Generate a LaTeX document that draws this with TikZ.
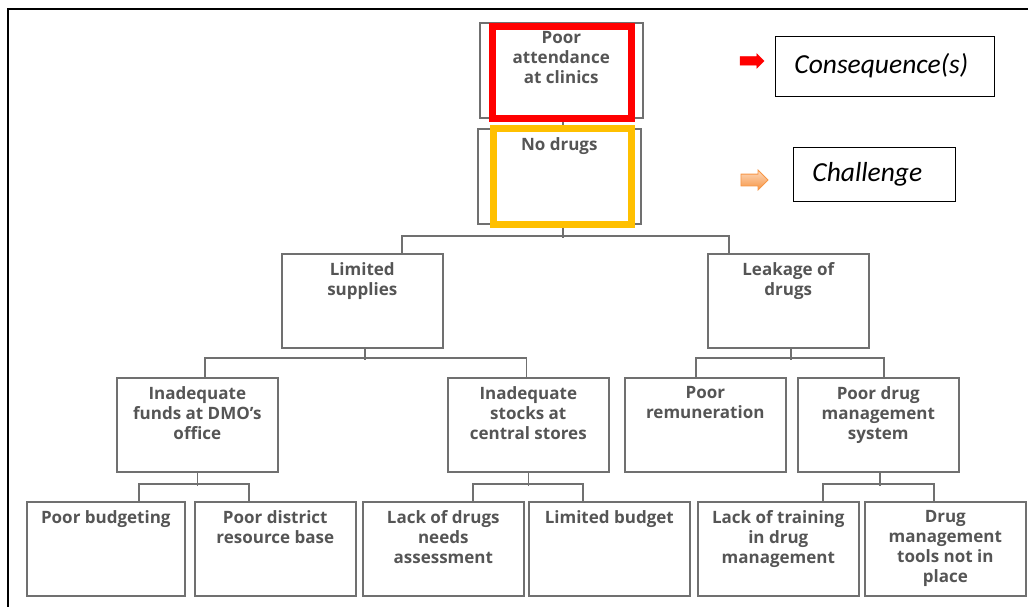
\documentclass[tikz,border=0pt]{standalone}
\usepackage{fontspec}
\setmainfont{Open Sans}
\newfontfamily\legendfont{Carlito}
\usetikzlibrary{positioning,shapes.arrows}

\definecolor{boxgray}{HTML}{707070}
\definecolor{textgray}{HTML}{555555}
\definecolor{hlred}{HTML}{FF0000}
\definecolor{hlyellow}{HTML}{FFC000}
\definecolor{peach}{HTML}{FCD9BC}
\definecolor{peachdark}{HTML}{F79646}

\begin{document}
\begin{tikzpicture}[x=1pt, y=-1pt,
		causebox/.style={draw=boxgray, line width=1.6pt, minimum width=161pt, minimum height=94pt, inner sep=0pt, anchor=north west},
		boxtext/.style={anchor=north, yshift=-9.5pt, align=center, text=textgray, inner sep=0pt, font=\bfseries\fontsize{17}{20}\selectfont},
		link/.style={draw=boxgray, line width=1.6pt},
		legendbox/.style={draw=black, line width=0.8pt, align=left, inner xsep=19pt, inner ysep=0pt, anchor=west, font=\legendfont\itshape\fontsize{27.5}{30}\selectfont},
		keyarrow/.style={single arrow, inner xsep=0pt},
	]
	\useasboundingbox (0,0) rectangle (1028,607);
	%Frame
	\draw[black, line width=1.5pt] (8,607) -- (8,9) -- (1028,9);
	
	%Nodes
	\node[causebox, minimum width=163pt, minimum height=95pt] (pac) at (479,22) [label={[boxtext]north:Poor\\attendance\\at clinics}] {};
	\node[causebox, minimum width=163pt, minimum height=95pt] (nod) at (477,128) [label={[boxtext]north:No drugs}] {};
	\node[causebox] (ls)  at (281,253) [label={[boxtext]north:Limited\\supplies}] {};
	\node[causebox] (lk)  at (707,253) [label={[boxtext]north:Leakage of\\drugs}] {};
	\node[causebox] (iaf) at (116,377) [label={[boxtext]north:Inadequate\\funds at DMO’s\\office}] {};
	\node[causebox] (ias) at (447,377) [label={[boxtext]north:Inadequate\\stocks at\\central stores}] {};
	\node[causebox] (prm) at (624,377) [label={[boxtext]north:Poor\\remuneration}] {};
	\node[causebox] (pdm) at (797,377) [label={[boxtext]north:Poor drug\\management\\system}] {};
	\node[causebox, minimum width=158pt] (pbg) at (26,501) [label={[boxtext]north:Poor budgeting}] {};
	\node[causebox] (pdr) at (194,501) [label={[boxtext]north:Poor district\\resource base}] {};
	\node[causebox] (lda) at (362,501) [label={[boxtext]north:Lack of drugs\\needs\\assessment}] {};
	\node[causebox] (lbd) at (528,501) [label={[boxtext]north:Limited budget}] {};
	\node[causebox] (ltr) at (697,501) [label={[boxtext]north:Lack of training\\in drug\\management}] {};
	\node[causebox] (dmt) at (864,501) [label={[boxtext]north:Drug\\management\\tools not in\\place}] {};
	
	%Lines
	\draw[link] ([xshift=1.5pt]pac.south) -- ([xshift=3.5pt]nod.north);
	\draw[link] ([xshift=3.5pt]nod.south) -- ++(0,13);
	\draw[link] ([xshift=39.5pt]ls.north) -- ++(0,-17) -| ([xshift=-59.5pt]lk.north);
	\draw[link] ([xshift=2.5pt]ls.south) -- ++(0,11);
	\draw[link] ([xshift=7.5pt]iaf.north) -- ++(0,-19) -| ([xshift=-2pt]ias.north);
	\draw[link] ([xshift=2.5pt]lk.south) -- ++(0,11);
	\draw[link] ([xshift=-9.5pt]prm.north) -- ++(0,-19) -| ([xshift=5.5pt]pdm.north);
	\draw[link] (iaf.south) -- ++(0,13);
	\draw[link] ([xshift=33pt]pbg.north) -- ++(0,-17) -| ([xshift=-26.5pt]pdr.north);
	\draw[link] (ias.south) -- ++(0,13);
	\draw[link] ([xshift=29.5pt]lda.north) -- ++(0,-17) -| ([xshift=-26.5pt]lbd.north);
	\draw[link] ([xshift=1.5pt]pdm.south) -- ++(0,13);
	\draw[link] ([xshift=44.5pt]ltr.north) -- ++(0,-17) -| ([xshift=-11.5pt]dmt.north);
	
	%Highlights
	\draw[hlred, line width=7pt] (492.5,26.5) rectangle (631.5,118.5);
	\draw[hlyellow, line width=7pt] (493.5,128.5) rectangle (631.5,224.5);
	
	%Legend
	\node[keyarrow, fill=hlred, draw=hlred, line width=0.5pt, inner ysep=4pt, single arrow head extend=3pt, minimum height=24pt] (rkey) at (750,61) {};
	\node[legendbox, text width=181pt, minimum height=60pt] (cons) at (775,66) {Consequence(s)};
	\node[keyarrow, top color=peach, bottom color=peachdark, draw=peachdark, line width=0.8pt, inner ysep=5.5pt, single arrow head extend=4pt, minimum height=27pt] (okey) at (751.5,180) {};
	\node[legendbox, text width=124pt, minimum height=54pt] (chal) at (793,174) {Challenge};
\end{tikzpicture}
\end{document}
